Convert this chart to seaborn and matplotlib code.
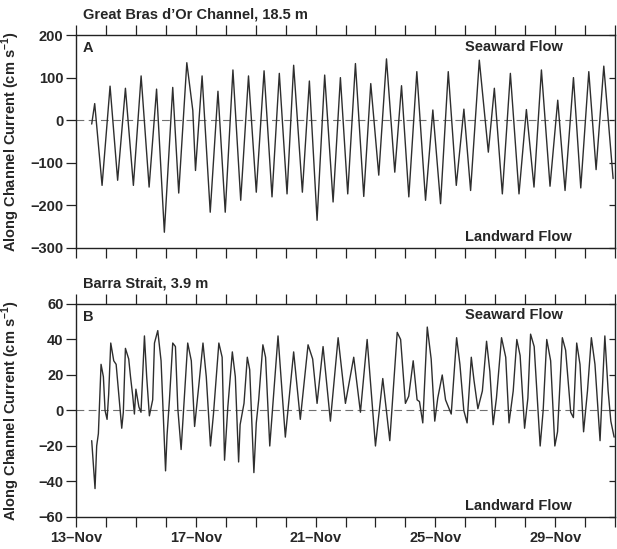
import numpy as np
import pandas as pd
import matplotlib
matplotlib.use("Agg")
import matplotlib.pyplot as plt
import seaborn as sns

# Along-channel current records, time in days after 13-Nov 00:00
gbo_day = [0.524, 0.624, 0.870, 1.137, 1.390, 1.650, 1.916, 2.174, 2.441, 2.690,
           2.950, 3.230, 3.430, 3.700, 3.900, 3.990, 4.210, 4.482, 4.740, 4.983, 5.240,
           5.500, 5.760, 6.020, 6.280, 6.545, 6.789, 7.047, 7.268, 7.559, 7.793,
           8.050, 8.304, 8.585, 8.829, 9.074, 9.331, 9.609, 9.843, 10.110, 10.368,
           10.645, 10.870, 11.114, 11.381, 11.672, 11.916, 12.174, 12.431, 12.699, 12.953,
           13.177, 13.468, 13.769, 13.970, 14.237, 14.505, 14.793, 15.040, 15.294, 15.542,
           15.829, 16.087, 16.331, 16.612, 16.856, 17.124, 17.368, 17.625, 17.936]
gbo_cur = [-9, 39, -153, 80, -141, 75, -153, 104, -157, 73,
           -263, 77, -171, 135, 23, -118, 104, -216, 68, -216, 118,
           -188, 104, -169, 116, -180, 110, -173, 129, -169, 92,
           -235, 106, -192, 100, -173, 133, -179, 86, -129, 144,
           -122, 81, -180, 114, -188, 24, -196, 114, -153, 26,
           -165, 141, -75, 75, -173, 110, -173, 25, -157, 118,
           -155, 47, -165, 100, -159, 114, -116, 127, -137]

barra_day = [0.524, 0.635, 0.690, 0.747, 0.836, 0.914, 0.970, 1.037, 1.090, 1.160,
             1.260, 1.340, 1.527, 1.580, 1.650, 1.760, 1.820, 1.895, 1.950, 2.000,
             2.100, 2.170, 2.285, 2.360, 2.450, 2.560, 2.620, 2.730, 2.840, 2.990,
             3.040, 3.120, 3.230, 3.320, 3.400, 3.510, 3.590, 3.730, 3.850, 3.960,
             4.100, 4.240, 4.350, 4.490, 4.590, 4.770, 4.880, 4.960, 5.070, 5.220,
             5.320, 5.430, 5.480, 5.610, 5.720, 5.800, 5.940, 6.020, 6.100, 6.240,
             6.330, 6.470, 6.746, 6.990, 7.268, 7.490, 7.749, 7.903, 8.050, 8.250,
             8.495, 8.753, 8.806, 8.997, 9.274, 9.498, 9.722, 10.000, 10.244, 10.478,
             10.726, 10.840, 11.000, 11.110, 11.260, 11.390, 11.470, 11.580, 11.730, 11.860,
             11.980, 12.080, 12.230, 12.340, 12.530, 12.710, 12.820, 12.950, 13.060, 13.200,
             13.290, 13.420, 13.570, 13.710, 13.820, 13.930, 14.040, 14.210, 14.350, 14.460,
             14.600, 14.720, 14.830, 14.980, 15.090, 15.180, 15.300, 15.500, 15.600, 15.720,
             15.850, 15.990, 16.080, 16.240, 16.350, 16.520, 16.610, 16.720, 16.830, 16.950,
             17.080, 17.210, 17.330, 17.500, 17.560, 17.660, 17.770, 17.860, 17.970]
barra_cur = [-17, -44, -20, -13, 26, 19, 0, -5, 9, 38,
             28, 26, -10, -1, 35, 29, 19, 8, -2, 12,
             2, -1, 42, 19, -3, 6, 38, 45, 28, -34,
             -14, 6, 38, 36, 1, -22, 0, 38, 28, -9,
             14, 38, 19, -20, -2, 38, 30, -28, 2, 33,
             19, -29, -8, 4, 30, 23, -35, -7, 6, 37,
             30, -20, 42, -15, 33, -5, 37, 29, 4, 36,
             -6, 41, 33, 4, 30, -1, 40, -20, 18, -17,
             44, 40, 4, 8, 28, 6, 5, -7, 47, 29,
             -6, 7, 20, 6, -2, 41, 26, 0, -7, 30,
             17, 1, 11, 39, 22, -8, 7, 41, 30, -7,
             11, 40, 31, -10, 7, 43, 36, -20, 0, 40,
             28, -20, -12, 41, 34, -1, -4, 38, 26, -12,
             11, 41, 26, -17, 6, 42, 11, -6, -15]

date_labels = ["13\u2013Nov", "17\u2013Nov", "21\u2013Nov", "25\u2013Nov", "29\u2013Nov"]

sns.set_theme(style="ticks")
plt.rcParams["font.family"] = ["Liberation Sans", "DejaVu Sans"]
plt.rcParams["font.weight"] = "bold"
plt.rcParams["axes.labelweight"] = "bold"
plt.rcParams["mathtext.fontset"] = "custom"
plt.rcParams["mathtext.rm"] = "Liberation Sans:bold"
plt.rcParams["mathtext.bf"] = "Liberation Sans:bold"
plt.rcParams["axes.unicode_minus"] = True

FS = 10.5
fig = plt.figure(figsize=(6.17, 5.49), dpi=100)
axA = fig.add_axes([0.1232, 0.5483, 0.8736, 0.3879])
axB = fig.add_axes([0.1232, 0.0583, 0.8736, 0.3880])

panels = [
    (axA, gbo_day, gbo_cur, (-300, 200), 100, "A", "Great Bras d\u2019Or Channel, 18.5 m", False),
    (axB, barra_day, barra_cur, (-60, 60), 20, "B", "Barra Strait, 3.9 m", True),
]

for ax, days, cur, ylim, ystep, tag, title, show_dates in panels:
    df = pd.DataFrame({"day": days, "current": cur})
    ax.axhline(0, color="#707070", lw=0.8, ls=(0, (7, 4)), zorder=1)
    sns.lineplot(data=df, x="day", y="current", ax=ax, color="#2e2e2e",
                 lw=1.0, estimator=None, sort=False, zorder=2)
    ax.set_xlim(0, 18)
    ax.set_ylim(*ylim)
    yt = np.arange(ylim[0], ylim[1] + ystep, ystep)
    ax.set_yticks(yt)
    ax.set_yticklabels([f"{v:d}".replace("-", "\u2212") for v in yt],
                       fontsize=FS, fontweight="bold")
    ax.set_xticks(np.arange(0, 19))
    if show_dates:
        labs = [date_labels[d // 4] if (d % 4 == 0 and d // 4 < len(date_labels)) else ""
                for d in range(19)]
    else:
        labs = [""] * 19
    ax.set_xticklabels(labs, fontsize=FS, fontweight="bold")
    ax.tick_params(axis="x", which="major", direction="out", top=True, bottom=True,
                   length=7, width=0.9, color="#222222", pad=3)
    ax.tick_params(axis="y", which="major", direction="out", left=True, right=False,
                   length=7, width=0.9, color="#222222", pad=2)
    sec = ax.secondary_yaxis("right")
    sec.set_yticks(yt)
    sec.tick_params(axis="y", direction="in", length=4, width=0.9, labelright=False,
                    color="#222222")
    sec.spines["right"].set_visible(False)
    for s in ax.spines.values():
        s.set_linewidth(1.0)
        s.set_color("#222222")
    ax.set_xlabel("")
    ax.set_ylabel("Along Channel Current (cm s$^{\\mathbf{-1}}$)", fontsize=FS,
                  fontweight="bold")
    ax.yaxis.set_label_coords(-0.1, 0.5)
    ax.text(0.013, 0.94, tag, transform=ax.transAxes, fontsize=FS, fontweight="bold",
            ha="left", va="center")
    ax.text(0.722, 0.946, "Seaward Flow", transform=ax.transAxes, fontsize=FS,
            fontweight="bold", ha="left", va="center")
    ax.text(0.722, 0.053, "Landward Flow", transform=ax.transAxes, fontsize=FS,
            fontweight="bold", ha="left", va="center")
    ax.text(0.013, 1.095, title, transform=ax.transAxes, fontsize=FS,
            fontweight="bold", ha="left", va="center")

fig.savefig("out.png", dpi=100)
